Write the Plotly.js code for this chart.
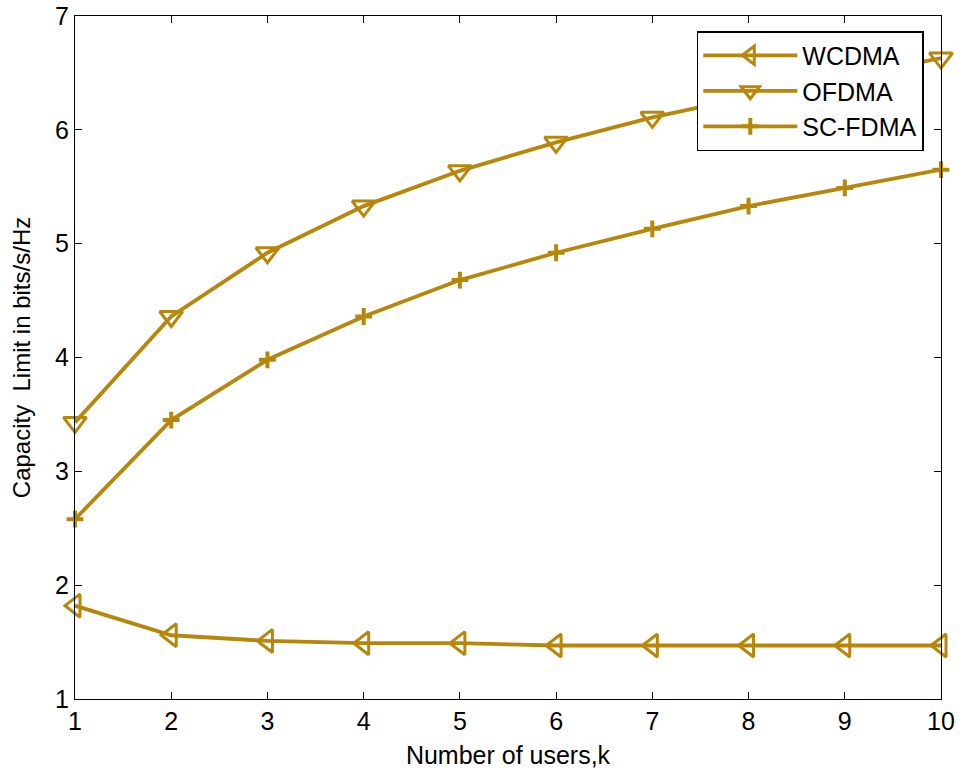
<!DOCTYPE html>
<html><head><meta charset="utf-8">
<script src="https://cdn.plot.ly/plotly-3.0.1.min.js"></script>
<style>body{margin:0;background:#fff}#c{width:962px;height:772px}</style>
</head><body><div id="c"></div>
<script>
const users = [1,2,3,4,5,6,7,8,9,10];
const wcdma = [1.82,1.56,1.51,1.49,1.49,1.47,1.47,1.47,1.47,1.47];
const ofdma = [3.43,4.36,4.92,5.33,5.64,5.89,6.11,6.29,6.46,6.63];
const scfdma = [2.58,3.45,3.98,4.36,4.68,4.92,5.13,5.33,5.49,5.65];
const xTicks = [1,2,3,4,5,6,7,8,9,10];
const yTicks = [1,2,3,4,5,6,7];

const col = '#B8860B';
const base = {mode:'lines+markers', line:{color:col,width:3.8}, cliponaxis:false};
const traces = [
  Object.assign({}, base, {x:users, y:wcdma, name:'WCDMA', legendgroup:'a', marker:{symbol:'triangle-left-open', size:20, color:col, line:{width:3,color:col}}}),
  Object.assign({}, base, {x:users, y:ofdma, name:'OFDMA', legendgroup:'b', marker:{symbol:'triangle-down-open', size:20, color:col, line:{width:3,color:col}}}),
  Object.assign({}, base, {x:users, y:scfdma, name:'SC-FDMA', legendgroup:'c', marker:{symbol:'cross-thin-open', size:12, color:col, line:{width:4,color:col}}})
];
const ff = 'Liberation Sans, Arial, sans-serif';
const tfont = {family:ff, size:25, color:'#000'};
const layout = {
  width:962, height:772,
  margin:{l:75, r:21, t:16, b:73},
  paper_bgcolor:'#fff', plot_bgcolor:'#fff',
  font:tfont,
  showlegend:true,
  legend:{x:0.718, y:0.978, xanchor:'left', yanchor:'top', bgcolor:'#fff', bordercolor:'#000', borderwidth:1.5, itemwidth:94, traceorder:'normal', tracegroupgap:1, font:{family:ff,size:25,color:'#000'}},
  xaxis:{range:[1,10], tickvals:xTicks, ticks:'inside', ticklen:7, tickcolor:'#000', showline:true, linecolor:'#000', linewidth:1.2, mirror:'ticks', showgrid:false, zeroline:false,
    tickfont:{family:ff,size:25,color:'#000'},
    title:{text:'Number of users,k', font:tfont, standoff:12}},
  yaxis:{range:[1,7], tickvals:yTicks, ticks:'inside', ticklen:7, tickcolor:'#000', showline:true, linecolor:'#000', linewidth:1.2, mirror:'ticks', showgrid:false, zeroline:false,
    tickfont:{family:ff,size:25,color:'#000'},
    title:{text:'Capacity  Limit in bits/s/Hz', font:{family:ff,size:24,color:'#000'}, standoff:17}}
};
Plotly.newPlot('c', traces, layout, {displayModeBar:false});
</script></body></html>
